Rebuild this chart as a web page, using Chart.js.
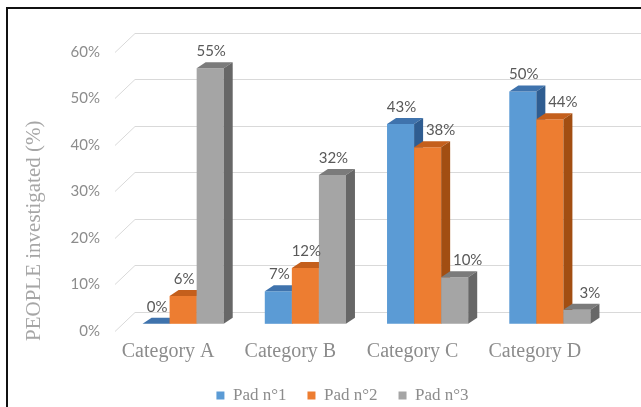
<!DOCTYPE html>
<html>
<head>
<meta charset="utf-8">
<script src="https://cdn.jsdelivr.net/npm/chart.js@4.4.1/dist/chart.umd.min.js"></script>
<style>
  html, body { margin: 0; padding: 0; background: #fff; }
  #wrap { position: relative; width: 641px; height: 407px; overflow: hidden; }
  #frame { position: absolute; left: 6px; top: 7px; width: 800px; height: 600px;
           border-top: 2px solid #111; border-left: 2px solid #111; pointer-events: none; }
</style>
</head>
<body>
<div id="wrap">
  <canvas id="chart" width="641" height="407"></canvas>
  <div id="frame"></div>
</div>
<script>
const categories = ['Category A', 'Category B', 'Category C', 'Category D']
const seriesNames = ['Pad n°1', 'Pad n°2', 'Pad n°3']
const pad1 = [0, 7, 43, 50]
const pad2 = [6, 12, 38, 44]
const pad3 = [55, 32, 10, 3]
const yTicks = [0, 10, 20, 30, 40, 50, 60]

const frontColors = ['#5b9bd5', '#ed7d31', '#a5a5a5']
const topColors = ['#3f73ad', '#c45f1c', '#7b7b7b']
const sideColors = ['#2f5d91', '#a24e12', '#676767']
const dx = 9, dy = 6

// fake 3d: back wall grid, bar tops and sides, value labels
const bars3d = {
  id: 'bars3d',
  afterLayout(chart) {
    const legend = chart.legend
    legend.left += 33
    legend.right += 33
    legend.top += 1
    legend.bottom += 1
  },
  beforeDatasetsDraw(chart) {
    const { ctx, chartArea, scales: { y } } = chart
    ctx.save()

    ctx.strokeStyle = '#d9d9d9'
    ctx.lineWidth = 1
    yTicks.forEach(v => {
      const py = Math.round(y.getPixelForValue(v)) + 0.5
      ctx.beginPath()
      ctx.moveTo(chartArea.left - 7, py + 7)
      ctx.lineTo(chartArea.left + 13, py - 12)
      ctx.lineTo(chart.width, py - 12)
      ctx.stroke()
    })

    chart.data.datasets.forEach((ds, i) => {
      chart.getDatasetMeta(i).data.forEach(bar => {
        bar.draw(ctx)
        const left = bar.x - bar.width / 2
        const right = bar.x + bar.width / 2
        ctx.fillStyle = topColors[i]
        ctx.beginPath()
        ctx.moveTo(left, bar.y)
        ctx.lineTo(right, bar.y)
        ctx.lineTo(right + dx, bar.y - dy)
        ctx.lineTo(left + dx, bar.y - dy)
        ctx.closePath()
        ctx.fill()
        ctx.fillStyle = sideColors[i]
        ctx.beginPath()
        ctx.moveTo(right, bar.y)
        ctx.lineTo(right + dx, bar.y - dy)
        ctx.lineTo(right + dx, bar.base - dy)
        ctx.lineTo(right, bar.base)
        ctx.closePath()
        ctx.fill()
      })
    })

    // labels move right when the bar on the left is taller
    ctx.font = '15px Lato'
    ctx.fillStyle = '#595959'
    ctx.textAlign = 'center'
    ctx.textBaseline = 'middle'
    chart.data.datasets.forEach((ds, i) => {
      chart.getDatasetMeta(i).data.forEach((bar, j) => {
        const prev = i > 0 ? chart.getDatasetMeta(i - 1).data[j] : null
        const shift = prev && prev.y < bar.y ? 13 : 1
        ctx.fillText(ds.data[j] + '%', bar.x + shift, bar.y - dy - 11)
      })
    })

    ctx.restore()
    return false
  }
}

new Chart(document.getElementById('chart'), {
  type: 'bar',
  data: {
    labels: categories,
    datasets: [pad1, pad2, pad3].map((values, i) => ({
      label: seriesNames[i],
      data: values,
      backgroundColor: frontColors[i],
      borderWidth: 0,
      categoryPercentage: 0.664,
      barPercentage: 1
    }))
  },
  options: {
    responsive: false,
    animation: false,
    layout: { padding: { left: 8, top: 45, right: 30, bottom: -6 } },
    scales: {
      x: {
        afterFit: s => { s.height = 24 },
        grid: { display: false },
        border: { display: false },
        ticks: {
          padding: -9,
          labelOffset: -15,
          maxRotation: 0,
          color: '#8c8c8c',
          font: { family: 'Liberation Serif', size: 20 }
        }
      },
      y: {
        min: -3.7,
        max: 60,
        afterBuildTicks: s => { s.ticks = yTicks.map(v => ({ value: v })) },
        afterFit: s => { s.width = 114 },
        grid: { display: false },
        border: { display: false },
        ticks: {
          padding: 14,
          labelOffset: 7,
          color: '#8c8c8c',
          font: { family: 'Lato', size: 15 },
          callback: v => v + '%'
        },
        title: {
          display: true,
          text: 'PEOPLE investigated (%)',
          align: 'start',
          color: '#a6a6a6',
          font: { family: 'Liberation Serif', size: 21 },
          padding: { top: 14 }
        }
      }
    },
    plugins: {
      legend: {
        position: 'bottom',
        labels: {
          boxWidth: 8,
          boxHeight: 8,
          padding: 21,
          color: '#8c8c8c',
          font: { family: 'Liberation Serif', size: 17 }
        }
      },
      tooltip: { enabled: false }
    }
  },
  plugins: [bars3d]
})
</script>
</body>
</html>
